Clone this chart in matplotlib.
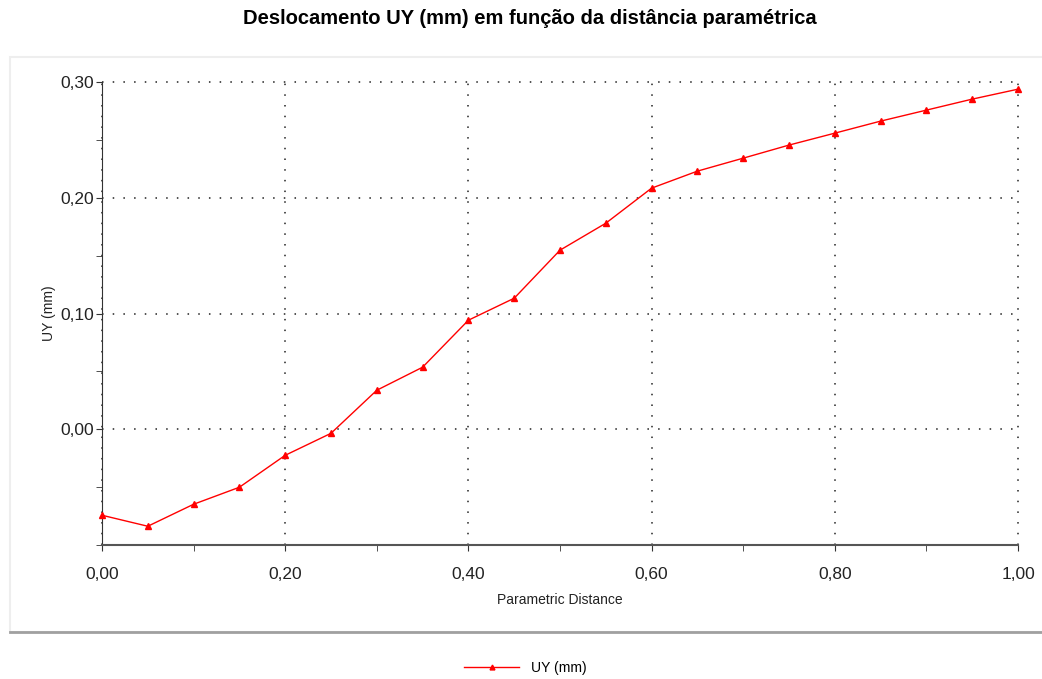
import matplotlib
matplotlib.use('Agg')
import matplotlib.pyplot as plt
import matplotlib.patches as patches
from matplotlib.ticker import MultipleLocator, FuncFormatter

# --- Data ---
distance = [0.00, 0.05, 0.10, 0.15, 0.20, 0.25, 0.30, 0.35, 0.40, 0.45, 0.50,
            0.55, 0.60, 0.65, 0.70, 0.75, 0.80, 0.85, 0.90, 0.95, 1.00]
uy_mm = [-0.0743, -0.0838, -0.0648, -0.0501, -0.0225, -0.0035, 0.0337, 0.0536,
         0.0942, 0.1132, 0.1547, 0.1780, 0.2083, 0.2230, 0.2342, 0.2455,
         0.2558, 0.2662, 0.2757, 0.2852, 0.2938]

TITLE = 'Deslocamento UY (mm) em função da distância paramétrica'
XLABEL = 'Parametric Distance'
YLABEL = 'UY (mm)'
SERIES = 'UY (mm)'

plt.rcParams['font.family'] = ['Liberation Sans', 'DejaVu Sans']

fig = plt.figure(figsize=(10.42, 6.79), dpi=100)
fig.patch.set_facecolor('white')

# panel frame around the plot
fig.add_artist(patches.Rectangle((10/1042, 1-632/679), 1.0, (632-57)/679, transform=fig.transFigure,
                                 facecolor='none', edgecolor='#eeeeee', linewidth=1.5))
fig.add_artist(plt.Line2D([10/1042, 1.0], [1-632/679, 1-632/679], transform=fig.transFigure,
                          color='#a0a0a0', linewidth=2))

ax = fig.add_axes([102/1042, 1-545/679, (1018-102)/1042, (545-82)/679])
ax.plot(distance, uy_mm, color='#ff0000', linewidth=1.0, marker='^', markersize=5,
        label=SERIES, clip_on=False, zorder=3)

ax.set_xlim(0, 1.0)
ax.set_ylim(-0.1, 0.3)
ax.xaxis.set_major_locator(MultipleLocator(0.2))
ax.xaxis.set_minor_locator(MultipleLocator(0.1))
fmt = FuncFormatter(lambda v, p: f'{v:.2f}'.replace('.', ','))
ax.xaxis.set_major_formatter(fmt)
ax.yaxis.set_major_formatter(fmt)
# -0,10 has no label in the reference
ax.set_yticks([0.0, 0.1, 0.2, 0.3])
ax.set_yticks([-0.1, -0.05, 0.05, 0.15, 0.25], minor=True)

ax.grid(True, which='major', linestyle=(0, (1, 6)), color='#222222', linewidth=1.1)
for gl in ax.get_xgridlines() + ax.get_ygridlines():
    gl.set_clip_on(False)
ax.spines['top'].set_visible(False)
ax.spines['right'].set_visible(False)
ax.spines['left'].set_color('#333333')
ax.spines['bottom'].set_color('#555555')
ax.spines['bottom'].set_linewidth(1.5)
ax.tick_params(which='both', direction='out', length=4, color='#333333', labelsize=12.5,
               labelcolor='#222222')
ax.tick_params(axis='x', pad=12)
ax.tick_params(axis='y', pad=2)

ax.set_xlabel(XLABEL, fontsize=10, labelpad=8, color='#222222')
ax.set_ylabel(YLABEL, fontsize=10, labelpad=3, color='#222222')

fig.suptitle(TITLE, fontsize=14.5, fontweight='bold', x=530/1042, y=1-19/679, va='center')

fig.legend(loc='center', bbox_to_anchor=(525/1042, 1-668/679), frameon=False, fontsize=10,
           handlelength=4, markerscale=0.7)

plt.savefig('out.png', dpi=100, facecolor='white')
plt.close()
